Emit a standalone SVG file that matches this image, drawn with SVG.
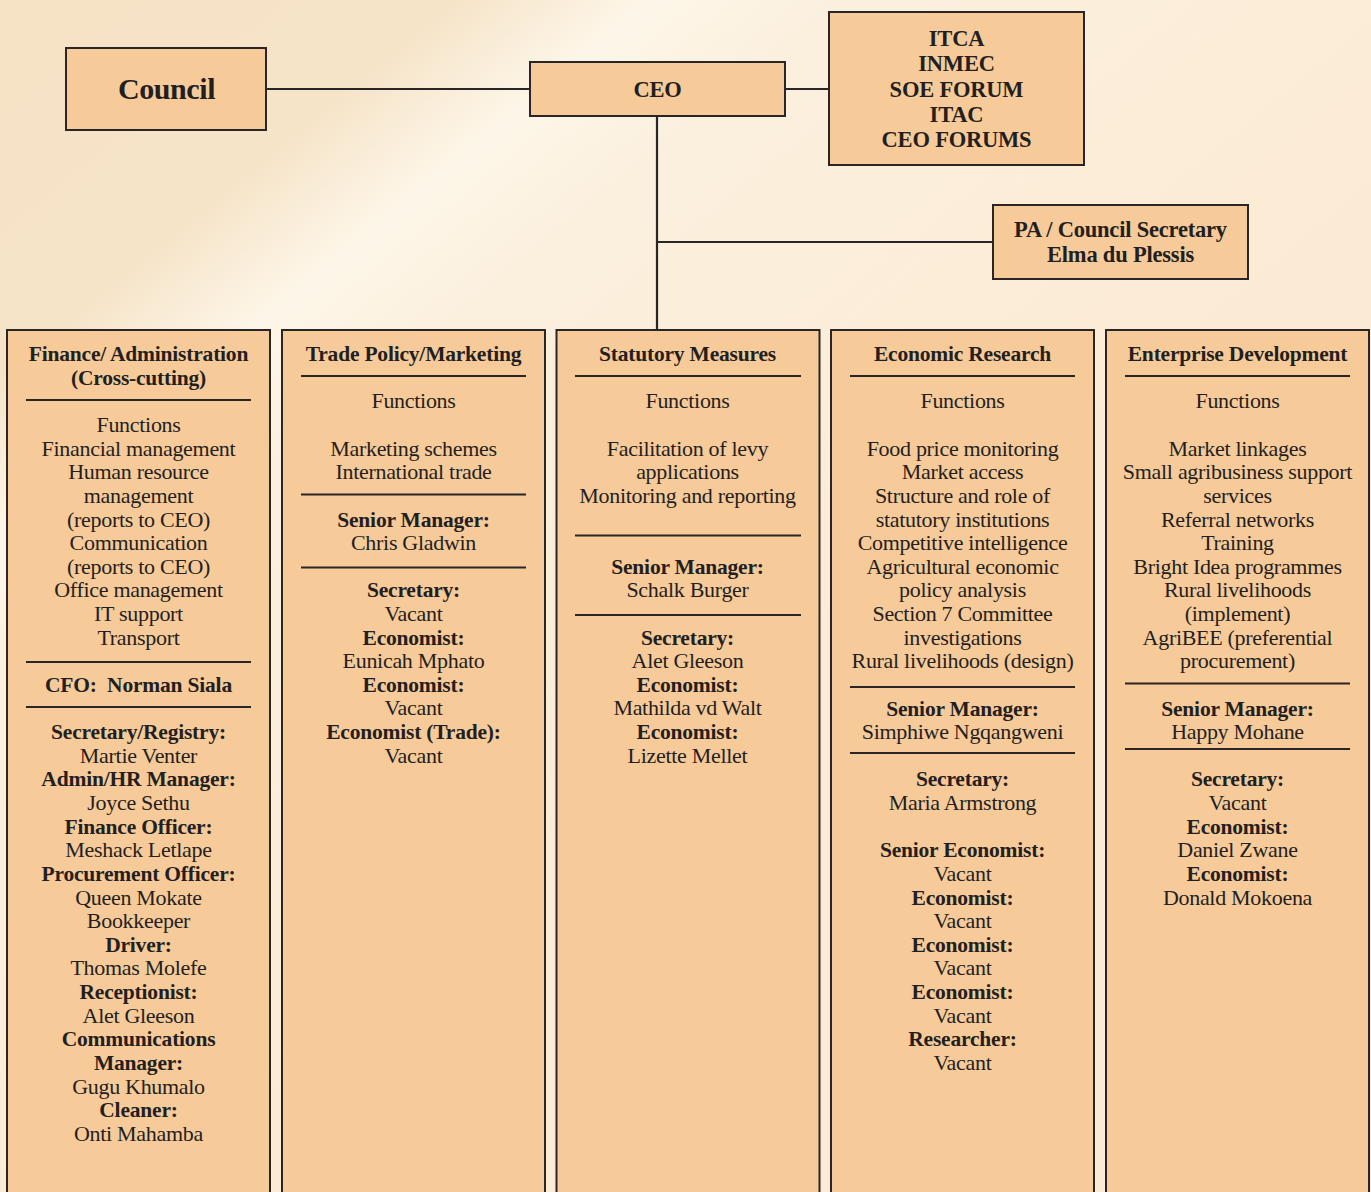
<svg xmlns="http://www.w3.org/2000/svg" width="1371" height="1192" viewBox="0 0 1371 1192">
<defs>
<linearGradient id="bg" gradientUnits="userSpaceOnUse" x1="0" y1="0" x2="660" y2="800">
<stop offset="0" stop-color="#F6E2C5"/>
<stop offset="0.28" stop-color="#F6E4C9"/>
<stop offset="0.4" stop-color="#FDF6E8"/>
<stop offset="0.52" stop-color="#FBF0DE"/>
<stop offset="1" stop-color="#FCEBD4"/>
</linearGradient>
<style>
.box{fill:#F7CA9A;stroke:#2A2627;stroke-width:2}
.sep{stroke:#2A2627;stroke-width:2;fill:none}
.con{stroke:#2A2627;stroke-width:2.2;fill:none}
text{font-family:"Liberation Serif","Times New Roman",serif;fill:#231F20;text-anchor:middle}
.r{font-size:22px;letter-spacing:-0.3px;transform:translate(0px,-1px)}
.b{font-size:21.5px;font-weight:bold;letter-spacing:-0.2px}
.big{font-size:30px;font-weight:bold;letter-spacing:-0.4px}
.h{font-size:22.5px;font-weight:bold;letter-spacing:-0.2px}
</style>
</defs>
<rect x="0" y="0" width="1371" height="1192" fill="url(#bg)"/>

<g id="connectors">
<line class="con" x1="266" y1="89" x2="530" y2="89"/>
<line class="con" x1="785" y1="89" x2="829" y2="89"/>
<line class="con" x1="657" y1="116" x2="657" y2="330"/>
<line class="con" x1="657" y1="242" x2="993" y2="242"/>
</g>

<g id="council">
<rect class="box" x="66" y="48" width="200" height="82"/>
<text class="big" x="166.5" y="99">Council</text>
</g>

<g id="ceo">
<rect class="box" x="530" y="62" width="255" height="54"/>
<text class="h" x="657.5" y="97">CEO</text>
</g>

<g id="forums">
<rect class="box" x="829" y="12" width="255" height="153"/>
<text class="h" x="956.5" y="46">ITCA</text>
<text class="h" x="956.5" y="71.3">INMEC</text>
<text class="h" x="956.5" y="96.7">SOE FORUM</text>
<text class="h" x="956.5" y="122">ITAC</text>
<text class="h" x="956.5" y="147">CEO FORUMS</text>
</g>

<g id="pa">
<rect class="box" x="993" y="205" width="255" height="74"/>
<text class="h" x="1120.5" y="236.7">PA / Council Secretary</text>
<text class="h" x="1120.5" y="261.7">Elma du Plessis</text>
</g>

<g id="col-finance">
<rect class="box" x="7" y="330" width="263" height="880"/>
<text class="b" x="138.5" y="361">Finance/ Administration</text>
<text class="b" x="138.5" y="385">(Cross-cutting)</text>
<line class="sep" x1="26" y1="400" x2="251" y2="400"/>
<text class="r" x="138.5" y="432.5">Functions</text>
<text class="r" x="138.5" y="456.5">Financial management</text>
<text class="r" x="138.5" y="479.5">Human resource</text>
<text class="r" x="138.5" y="503.5">management</text>
<text class="r" x="138.5" y="527.5">(reports to CEO)</text>
<text class="r" x="138.5" y="550.5">Communication</text>
<text class="r" x="138.5" y="574.5">(reports to CEO)</text>
<text class="r" x="138.5" y="597.5">Office management</text>
<text class="r" x="138.5" y="621.5">IT support</text>
<text class="r" x="138.5" y="645.5">Transport</text>
<line class="sep" x1="26" y1="662" x2="251" y2="662"/>
<text class="b" x="138.5" y="692" xml:space="preserve">CFO:  Norman Siala</text>
<line class="sep" x1="26" y1="707" x2="251" y2="707"/>
<text class="b" x="138.5" y="739">Secretary/Registry:</text>
<text class="r" x="138.5" y="763.5">Martie Venter</text>
<text class="b" x="138.5" y="786">Admin/HR Manager:</text>
<text class="r" x="138.5" y="810.5">Joyce Sethu</text>
<text class="b" x="138.5" y="834">Finance Officer:</text>
<text class="r" x="138.5" y="857.5">Meshack Letlape</text>
<text class="b" x="138.5" y="881">Procurement Officer:</text>
<text class="r" x="138.5" y="905.5">Queen Mokate</text>
<text class="r" x="138.5" y="928.5">Bookkeeper</text>
<text class="b" x="138.5" y="952">Driver:</text>
<text class="r" x="138.5" y="975.5">Thomas Molefe</text>
<text class="b" x="138.5" y="999">Receptionist:</text>
<text class="r" x="138.5" y="1023.5">Alet Gleeson</text>
<text class="b" x="138.5" y="1046">Communications</text>
<text class="b" x="138.5" y="1070">Manager:</text>
<text class="r" x="138.5" y="1094.5">Gugu Khumalo</text>
<text class="b" x="138.5" y="1117">Cleaner:</text>
<text class="r" x="138.5" y="1141.5">Onti Mahamba</text>
</g>

<g id="col-trade">
<rect class="box" x="282" y="330" width="263" height="880"/>
<text class="b" x="413.5" y="361">Trade Policy/Marketing</text>
<line class="sep" x1="301" y1="376" x2="526" y2="376"/>
<text class="r" x="413.5" y="408.5">Functions</text>
<text class="r" x="413.5" y="456.5">Marketing schemes</text>
<text class="r" x="413.5" y="479.5">International trade</text>
<line class="sep" x1="301" y1="494.5" x2="526" y2="494.5"/>
<text class="b" x="413.5" y="527">Senior Manager:</text>
<text class="r" x="413.5" y="550.5">Chris Gladwin</text>
<line class="sep" x1="301" y1="567.5" x2="526" y2="567.5"/>
<text class="b" x="413.5" y="597">Secretary:</text>
<text class="r" x="413.5" y="621.5">Vacant</text>
<text class="b" x="413.5" y="645">Economist:</text>
<text class="r" x="413.5" y="668.5">Eunicah Mphato</text>
<text class="b" x="413.5" y="692">Economist:</text>
<text class="r" x="413.5" y="715.5">Vacant</text>
<text class="b" x="413.5" y="739">Economist (Trade):</text>
<text class="r" x="413.5" y="763.5">Vacant</text>
</g>

<g id="col-statutory">
<rect class="box" x="556.5" y="330" width="263" height="880"/>
<text class="b" x="687.5" y="361">Statutory Measures</text>
<line class="sep" x1="575" y1="376" x2="801" y2="376"/>
<text class="r" x="687.5" y="408.5">Functions</text>
<text class="r" x="687.5" y="456.5">Facilitation of levy</text>
<text class="r" x="687.5" y="479.5">applications</text>
<text class="r" x="687.5" y="503.5">Monitoring and reporting</text>
<line class="sep" x1="575" y1="535.5" x2="801" y2="535.5"/>
<text class="b" x="687.5" y="574">Senior Manager:</text>
<text class="r" x="687.5" y="597.5">Schalk Burger</text>
<line class="sep" x1="575" y1="615" x2="801" y2="615"/>
<text class="b" x="687.5" y="645">Secretary:</text>
<text class="r" x="687.5" y="668.5">Alet Gleeson</text>
<text class="b" x="687.5" y="692">Economist:</text>
<text class="r" x="687.5" y="715.5">Mathilda vd Walt</text>
<text class="b" x="687.5" y="739">Economist:</text>
<text class="r" x="687.5" y="763.5">Lizette Mellet</text>
</g>

<g id="col-research">
<rect class="box" x="831" y="330" width="263" height="880"/>
<text class="b" x="962.5" y="361">Economic Research</text>
<line class="sep" x1="850" y1="376" x2="1075" y2="376"/>
<text class="r" x="962.5" y="408.5">Functions</text>
<text class="r" x="962.5" y="456.5">Food price monitoring</text>
<text class="r" x="962.5" y="479.5">Market access</text>
<text class="r" x="962.5" y="503.5">Structure and role of</text>
<text class="r" x="962.5" y="527.5">statutory institutions</text>
<text class="r" x="962.5" y="550.5">Competitive intelligence</text>
<text class="r" x="962.5" y="574.5">Agricultural economic</text>
<text class="r" x="962.5" y="597.5">policy analysis</text>
<text class="r" x="962.5" y="621.5">Section 7 Committee</text>
<text class="r" x="962.5" y="645.5">investigations</text>
<text class="r" x="962.5" y="668.5">Rural livelihoods (design)</text>
<line class="sep" x1="850" y1="687" x2="1075" y2="687"/>
<text class="b" x="962.5" y="716">Senior Manager:</text>
<text class="r" x="962.5" y="739.5">Simphiwe Ngqangweni</text>
<line class="sep" x1="850" y1="753" x2="1075" y2="753"/>
<text class="b" x="962.5" y="786">Secretary:</text>
<text class="r" x="962.5" y="810.5">Maria Armstrong</text>
<text class="b" x="962.5" y="857">Senior Economist:</text>
<text class="r" x="962.5" y="881.5">Vacant</text>
<text class="b" x="962.5" y="905">Economist:</text>
<text class="r" x="962.5" y="928.5">Vacant</text>
<text class="b" x="962.5" y="952">Economist:</text>
<text class="r" x="962.5" y="975.5">Vacant</text>
<text class="b" x="962.5" y="999">Economist:</text>
<text class="r" x="962.5" y="1023.5">Vacant</text>
<text class="b" x="962.5" y="1046">Researcher:</text>
<text class="r" x="962.5" y="1070.5">Vacant</text>
</g>

<g id="col-enterprise">
<rect class="box" x="1106" y="330" width="263" height="880"/>
<text class="b" x="1237.5" y="361">Enterprise Development</text>
<line class="sep" x1="1125" y1="376" x2="1350" y2="376"/>
<text class="r" x="1237.5" y="408.5">Functions</text>
<text class="r" x="1237.5" y="456.5">Market linkages</text>
<text class="r" x="1237.5" y="479.5">Small agribusiness support</text>
<text class="r" x="1237.5" y="503.5">services</text>
<text class="r" x="1237.5" y="527.5">Referral networks</text>
<text class="r" x="1237.5" y="550.5">Training</text>
<text class="r" x="1237.5" y="574.5">Bright Idea programmes</text>
<text class="r" x="1237.5" y="597.5">Rural livelihoods</text>
<text class="r" x="1237.5" y="621.5">(implement)</text>
<text class="r" x="1237.5" y="645.5">AgriBEE (preferential</text>
<text class="r" x="1237.5" y="668.5">procurement)</text>
<line class="sep" x1="1125" y1="683.5" x2="1350" y2="683.5"/>
<text class="b" x="1237.5" y="716">Senior Manager:</text>
<text class="r" x="1237.5" y="739.5">Happy Mohane</text>
<line class="sep" x1="1125" y1="749" x2="1350" y2="749"/>
<text class="b" x="1237.5" y="786">Secretary:</text>
<text class="r" x="1237.5" y="810.5">Vacant</text>
<text class="b" x="1237.5" y="834">Economist:</text>
<text class="r" x="1237.5" y="857.5">Daniel Zwane</text>
<text class="b" x="1237.5" y="881">Economist:</text>
<text class="r" x="1237.5" y="905.5">Donald Mokoena</text>
</g>
</svg>
